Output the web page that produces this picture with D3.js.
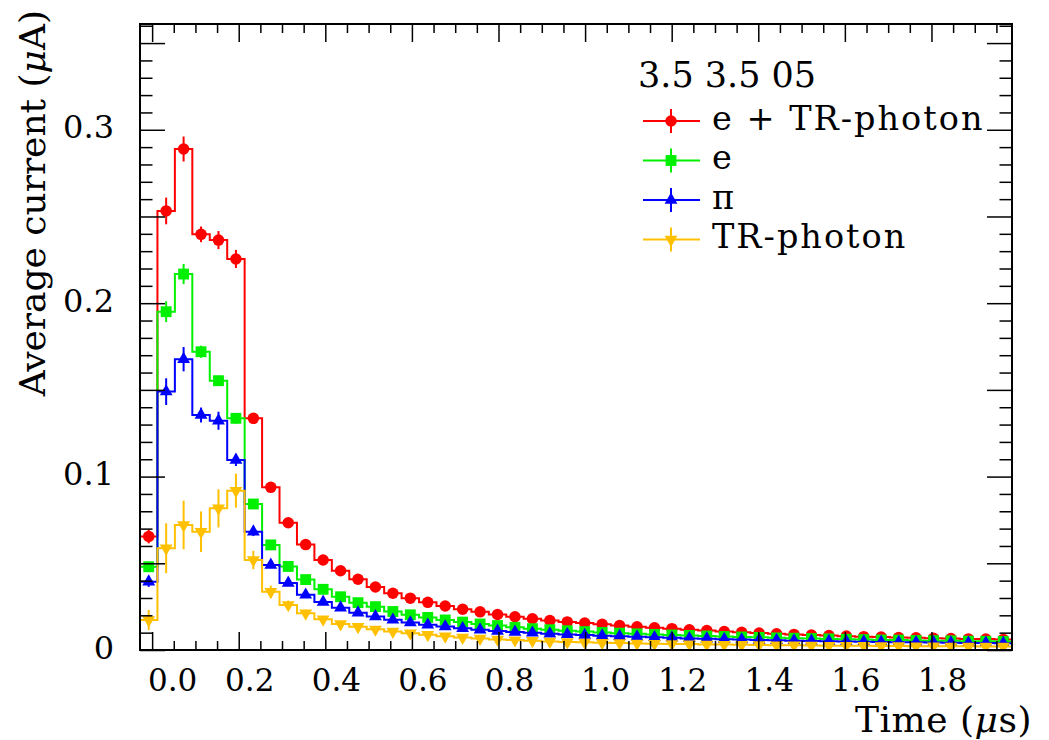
<!DOCTYPE html>
<html>
<head>
<meta charset="utf-8">
<script src="https://cdn.jsdelivr.net/npm/d3@7"></script>
<style>
  body { margin: 0; background: #fff; }
  text { font-family: "DejaVu Serif", serif; fill: #000; }
</style>
</head>
<body>
<div id="chart"></div>
<script>
var svgWidth = 1049;
var svgHeight = 740;

var frame = { left: 140, right: 1012, top: 24, bottom: 650 };

// histogram binning (like TH1: nBins, xLow, xHigh)
var nBins = 50;
var xLow = -0.028;
var xHigh = 1.986;

var seriesNames = ["e + TR-photon", "e", "\u03c0", "TR-photon"];
var seriesColors = ["#ff0000", "#00f000", "#0000ff", "#ffc000"];
var legendHeader = "3.5 3.5 05";

var eTR = [0.0655, 0.2532, 0.2889, 0.2397, 0.2364, 0.2255, 0.1336, 0.0938, 0.0734, 0.0608,
  0.0519, 0.0457, 0.0408, 0.0363, 0.0327, 0.0299, 0.0275, 0.0254, 0.0235, 0.0220,
  0.0205, 0.0192, 0.0180, 0.0170, 0.0162, 0.0155, 0.0148, 0.0141, 0.0134, 0.0128,
  0.0123, 0.0117, 0.0112, 0.0107, 0.0102, 0.0098, 0.0094, 0.0090, 0.0086, 0.0083,
  0.0080, 0.0077, 0.0075, 0.0072, 0.0070, 0.0068, 0.0066, 0.0064, 0.0063, 0.0061];
var eOnly = [0.0480, 0.1951, 0.2168, 0.1720, 0.1553, 0.1336, 0.0842, 0.0606, 0.0482, 0.0406,
  0.0350, 0.0307, 0.0273, 0.0250, 0.0222, 0.0203, 0.0188, 0.0173, 0.0161, 0.0150,
  0.0141, 0.0131, 0.0123, 0.0117, 0.0111, 0.0106, 0.0101, 0.0097, 0.0093, 0.0090,
  0.0087, 0.0084, 0.0081, 0.0078, 0.0075, 0.0073, 0.0070, 0.0068, 0.0066, 0.0064,
  0.0062, 0.0060, 0.0058, 0.0057, 0.0055, 0.0054, 0.0053, 0.0051, 0.0050, 0.0049];
var pion = [0.0394, 0.1490, 0.1677, 0.1355, 0.1322, 0.1096, 0.0682, 0.0490, 0.0386, 0.0318,
  0.0277, 0.0244, 0.0215, 0.0193, 0.0174, 0.0158, 0.0145, 0.0135, 0.0125, 0.0117,
  0.0110, 0.0104, 0.0099, 0.0094, 0.0090, 0.0086, 0.0082, 0.0079, 0.0076, 0.0073,
  0.0070, 0.0067, 0.0065, 0.0062, 0.0060, 0.0058, 0.0056, 0.0054, 0.0052, 0.0051,
  0.0049, 0.0048, 0.0046, 0.0045, 0.0044, 0.0043, 0.0042, 0.0041, 0.0040, 0.0039];
var trPhoton = [0.0173, 0.0587, 0.0721, 0.0682, 0.0817, 0.0919, 0.0519, 0.0336, 0.0260, 0.0212,
  0.0177, 0.0150, 0.0134, 0.0119, 0.0107, 0.0097, 0.0088, 0.0079, 0.0072, 0.0066,
  0.0061, 0.0057, 0.0053, 0.0049, 0.0046, 0.0044, 0.0042, 0.0040, 0.0038, 0.0036,
  0.0035, 0.0034, 0.0032, 0.0031, 0.0030, 0.0029, 0.0028, 0.0027, 0.0026, 0.0025,
  0.0025, 0.0024, 0.0023, 0.0023, 0.0022, 0.0022, 0.0021, 0.0021, 0.0020, 0.0020];

// errors on the first bins (later ones are hidden under the markers)
var eTRErr = [0.0040, 0.0077, 0.0072, 0.0045, 0.0052, 0.0052, 0.0030, 0.0020, 0.0016, 0.0013, 0.0011, 0.0010];
var eOnlyErr = [0.0030, 0.0060, 0.0058, 0.0035, 0.0030, 0.0030, 0.0025, 0.0018, 0.0014, 0.0012, 0.0010, 0.0009];
var pionErr = [0.0030, 0.0077, 0.0070, 0.0043, 0.0052, 0.0035, 0.0025, 0.0018, 0.0014, 0.0012, 0.0010, 0.0009];
var trPhotonErr = [0.0058, 0.0144, 0.0140, 0.0117, 0.0110, 0.0098, 0.0053, 0.0035, 0.0025, 0.0020, 0.0016, 0.0014];

var xMajor = [0, 0.2, 0.4, 0.6, 0.8, 1.0, 1.2, 1.4, 1.6, 1.8];
var yMajor = [0, 0.05, 0.1, 0.15, 0.2, 0.25, 0.3, 0.35];
var yMax = 0.361;

var allSeries = [eTR, eOnly, pion, trPhoton];
var allErrors = [eTRErr, eOnlyErr, pionErr, trPhotonErr];
var markerTypes = ["circle", "square", "up", "down"];

var svg = d3.select("#chart").append("svg")
  .attr("width", svgWidth)
  .attr("height", svgHeight)
  .style("background", "#fff");

var xScale = d3.scaleLinear().domain([xLow, xHigh]).range([frame.left, frame.right]);
var yScale = d3.scaleLinear().domain([0, yMax]).range([frame.bottom, frame.top]);

var binW = (xHigh - xLow) / nBins;

function markerPath(type) {
  if (type == "circle") return d3.symbol().type(d3.symbolCircle).size(104)();
  if (type == "square") return d3.symbol().type(d3.symbolSquare).size(118)();
  return d3.symbol().type(d3.symbolTriangle).size(72)();
}

svg.append("clipPath").attr("id", "frameClip")
  .append("rect")
  .attr("x", frame.left).attr("y", frame.top)
  .attr("width", frame.right - frame.left).attr("height", frame.bottom - frame.top);

var plot = svg.append("g").attr("clip-path", "url(#frameClip)");

var stepLine = d3.line()
  .x(d => xScale(d[0]))
  .y(d => yScale(d[1]))
  .curve(d3.curveStepAfter);

allSeries.forEach(function(vals, s) {
  var color = seriesColors[s];
  var pts = vals.map((v, i) => [xLow + i * binW, v]);
  pts.push([xHigh, vals[vals.length - 1]]);

  var g = plot.append("g");
  g.append("path")
    .attr("d", stepLine(pts))
    .attr("fill", "none")
    .attr("stroke", color)
    .attr("stroke-width", 2);

  var errs = allErrors[s];
  g.selectAll("line.err")
    .data(vals)
    .enter()
    .append("line")
    .attr("x1", (v, i) => xScale(xLow + (i + 0.5) * binW))
    .attr("x2", (v, i) => xScale(xLow + (i + 0.5) * binW))
    .attr("y1", (v, i) => yScale(v + (errs[i] || 0)))
    .attr("y2", (v, i) => yScale(v - (errs[i] || 0)))
    .attr("stroke", color)
    .attr("stroke-width", 2);

  var type = markerTypes[s];
  g.selectAll("path.mk")
    .data(vals)
    .enter()
    .append("path")
    .attr("d", markerPath(type))
    .attr("transform", (v, i) => `translate(${xScale(xLow + (i + 0.5) * binW)},${yScale(v)})` + (type == "down" ? " rotate(180)" : ""))
    .attr("fill", color);
});

// axes: ticks point inward, mirrored on top and right
function styleAxis(g) {
  g.select(".domain").remove();
  g.selectAll(".tick line").attr("stroke", "#000").attr("stroke-width", 1.5);
}

var xMinor = d3.range(0, 1.97, 0.05).filter(v => Math.abs(Math.round(v / 0.2) * 0.2 - v) > 1e-6);
var yMinor = d3.range(0.01, yMax, 0.01).filter(v => Math.abs(Math.round(v / 0.05) * 0.05 - v) > 1e-6);

svg.append("g")
  .attr("transform", `translate(0,${frame.bottom})`)
  .call(d3.axisBottom(xScale).tickValues(xMajor).tickSize(-18).tickFormat(d3.format(".1f")))
  .call(styleAxis)
  .call(g => g.selectAll("text")
    .attr("dy", null)
    .attr("y", 41)
    .attr("dx", d => (d == 0 || Math.abs(d - 1) < 1e-9) ? 20 : 10.5)
    .style("font-size", "31px")
    .style("font-family", "DejaVu Serif, serif"));

svg.append("g")
  .attr("transform", `translate(0,${frame.bottom})`)
  .call(d3.axisBottom(xScale).tickValues(xMinor).tickSize(-9).tickFormat(""))
  .call(styleAxis);

svg.append("g")
  .attr("transform", `translate(0,${frame.top})`)
  .call(d3.axisTop(xScale).tickValues(xMajor).tickSize(-18).tickFormat(""))
  .call(styleAxis);

svg.append("g")
  .attr("transform", `translate(0,${frame.top})`)
  .call(d3.axisTop(xScale).tickValues(xMinor).tickSize(-9).tickFormat(""))
  .call(styleAxis);

svg.append("g")
  .attr("transform", `translate(${frame.left},0)`)
  .call(d3.axisLeft(yScale).tickValues(yMajor).tickSize(-25).tickPadding(26)
    .tickFormat(d => Math.abs(Math.round(d * 10) - d * 10) < 1e-6 ? (d == 0 ? "0" : d3.format(".1f")(d)) : ""))
  .call(styleAxis)
  .call(g => g.selectAll("text")
    .attr("dy", null)
    .attr("y", 8)
    .style("font-size", "32px")
    .style("font-family", "DejaVu Serif, serif"));

svg.append("g")
  .attr("transform", `translate(${frame.left},0)`)
  .call(d3.axisLeft(yScale).tickValues(yMinor).tickSize(-12.5).tickFormat(""))
  .call(styleAxis);

svg.append("g")
  .attr("transform", `translate(${frame.right},0)`)
  .call(d3.axisRight(yScale).tickValues(yMajor).tickSize(-25).tickFormat(""))
  .call(styleAxis);

svg.append("g")
  .attr("transform", `translate(${frame.right},0)`)
  .call(d3.axisRight(yScale).tickValues(yMinor).tickSize(-12.5).tickFormat(""))
  .call(styleAxis);

svg.append("rect")
  .attr("x", frame.left).attr("y", frame.top)
  .attr("width", frame.right - frame.left).attr("height", frame.bottom - frame.top)
  .attr("fill", "none")
  .attr("stroke", "#000")
  .attr("stroke-width", 2);

// axis titles
var xTitle = svg.append("text")
  .attr("x", 1032).attr("y", 732)
  .attr("text-anchor", "end")
  .style("font-size", "36px")
  .style("letter-spacing", "0.5px");
xTitle.append("tspan").text("Time (");
xTitle.append("tspan").style("font-style", "italic").text("\u03bc");
xTitle.append("tspan").text("s)");

var yTitle = svg.append("text")
  .attr("transform", "translate(45,10) rotate(-90)")
  .attr("text-anchor", "end")
  .style("font-size", "36px");
yTitle.append("tspan").text("Average current (");
yTitle.append("tspan").style("font-style", "italic").text("\u03bc");
yTitle.append("tspan").text("A)");

// legend
var legend = svg.append("g");
legend.append("text")
  .attr("x", 638).attr("y", 87)
  .style("font-size", "35px")
  .text(legendHeader);

var rowY = [121, 160.5, 200, 239.5];
seriesNames.forEach(function(name, s) {
  var ly = rowY[s];
  var color = seriesColors[s];
  legend.append("line")
    .attr("x1", 643).attr("x2", 700).attr("y1", ly).attr("y2", ly)
    .attr("stroke", color).attr("stroke-width", 2);
  legend.append("line")
    .attr("x1", 671).attr("x2", 671).attr("y1", ly - 12).attr("y2", ly + 12)
    .attr("stroke", color).attr("stroke-width", 2);
  legend.append("path")
    .attr("d", markerPath(markerTypes[s]))
    .attr("transform", `translate(671,${ly})` + (markerTypes[s] == "down" ? " rotate(180)" : ""))
    .attr("fill", color);
  legend.append("text")
    .attr("x", 712).attr("y", ly + 8.5)
    .style("font-size", "33.5px")
    .style("letter-spacing", "2px")
    .text(name);
});
</script>
</body>
</html>
